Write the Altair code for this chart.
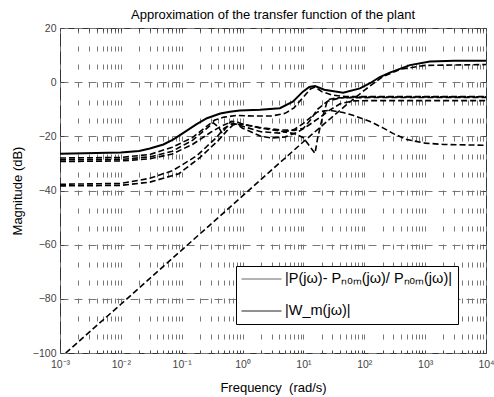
import altair as alt
import pandas as pd

# ---------------- data ----------------
# Solid curve |W_m(jw)|
wm_f = [0.001, 0.01, 0.02, 0.03, 0.05, 0.072, 0.105, 0.176, 0.26, 0.43, 0.62, 0.9,
        1.93, 4.1, 6.7, 9.8, 12.5, 15.5, 22, 45, 85, 124, 180, 263, 562, 1200, 3000, 10000]
wm_db = [-26.4, -26.0, -25.4, -24.5, -23.0, -21.2, -18.8, -15.5, -13.3, -11.6, -10.9, -10.5,
         -10.2, -9.6, -7.2, -3.5, -1.8, -1.4, -2.8, -3.9, -2.3, -0.4, 1.9, 3.5, 6.3, 7.6, 7.9, 7.9]

# Dashed curves |P - Pnom| / |Pnom| (several plant samples)
s_f = [0.00124, 0.01, 0.1, 1, 10, 50, 100, 200, 400, 1000, 10000]
s_db = [-100, -82, -62, -42, -22, -8.5, -3.0, 2.0, 4.8, 6.2, 6.5]

a_f = [0.001, 0.01, 0.03, 0.07, 0.15, 0.25, 0.35, 0.5, 0.8, 1.5, 3, 5, 7, 10, 13, 15.5, 20,
       30, 50, 100, 10000]
a_db = [-28.0, -27.8, -26.7, -24.0, -20.5, -16.5, -14.0, -12.9, -12.3, -12.5, -12.5, -11.5,
        -9.5, -5.5, -2.5, -1.8, -3.5, -4.8, -5.3, -5.3, -5.3]

b_f = [0.001, 0.01, 0.03, 0.07, 0.15, 0.25, 0.33, 0.4, 0.46, 0.55, 0.65, 0.8, 1, 2, 4, 7, 10,
       13, 15.5, 17, 20, 25, 35, 60, 10000]
b_db = [-28.7, -28.5, -27.6, -25.5, -21.5, -17.3, -15.0, -16.5, -18.8, -16.5, -14.5, -14.6,
        -15.5, -17.0, -18.0, -19.0, -20.5, -24.0, -26.3, -21.0, -14.0, -6.5, -5.8, -5.7, -5.6]

c_f = [0.001, 0.01, 0.03, 0.07, 0.15, 0.3, 0.45, 0.6, 0.8, 1, 2, 3, 5, 8, 12, 20, 27, 40,
       65, 150, 10000]
c_db = [-29.3, -29.1, -28.3, -26.5, -23.0, -18.5, -16.2, -15.0, -15.5, -17.0, -20.0, -20.6,
        -20.2, -18.5, -16.0, -12.5, -10.3, -8.0, -6.9, -6.8, -6.8]

d_f = [0.001, 0.01, 0.03, 0.072, 0.176, 0.37, 0.5, 0.7, 1, 2, 4, 7, 10, 17, 27, 45, 65, 124,
       200, 300, 500, 1000, 2000, 10000]
d_db = [-37.7, -37.4, -35.5, -32.6, -27.2, -20.5, -17.0, -15.3, -16.3, -18.3, -18.8, -17.5,
        -15.2, -11.0, -10.4, -11.2, -12.2, -14.5, -16.8, -19.0, -21.2, -22.5, -23.0, -23.3]

e_f = [0.001, 0.01, 0.03, 0.09, 0.2, 0.4, 0.55, 0.7, 1, 2, 4, 7, 10, 13, 17, 25, 40, 70, 10000]
e_db = [-38.3, -38.1, -36.9, -33.8, -27.8, -21.5, -18.0, -15.8, -15.5, -16.8, -17.6, -17.8,
        -17.0, -14.0, -10.0, -7.0, -5.8, -5.5, -5.4]

x_decades = [1e-3, 1e-2, 1e-1, 1e0, 1e1, 1e2, 1e3, 1e4]
x_labels = ["10⁻³", "10⁻²", "10⁻¹", "10⁰", "10¹", "10²", "10³", "10⁴"]
y_ticks = [-100, -80, -60, -40, -20, 0, 20]
legend_labels = ["|P(jω)- Pₙₒₘ(jω)/ Pₙₒₘ(jω)|", "|W_m(jω)|"]

# ---------------- build tables ----------------
rows = []
for name, fs, ds in [("s", s_f, s_db), ("a", a_f, a_db), ("b", b_f, b_db),
                     ("c", c_f, c_db), ("d", d_f, d_db), ("e", e_f, e_db)]:
    for i, (f, d) in enumerate(zip(fs, ds)):
        rows.append({"curve": name, "idx": i, "f": f, "db": d})
dashed_df = pd.DataFrame(rows)
solid_df = pd.DataFrame({"f": wm_f, "db": wm_db, "idx": list(range(len(wm_f)))})

grid_vals = []
for dec in x_decades[:-1]:
    for m in range(1, 10):
        grid_vals.append(dec * m)
grid_vals.append(x_decades[-1])

label_map = "{" + ",".join(f"'{i - 3}':'{lab}'" for i, lab in enumerate(x_labels)) + "}"
label_expr = (
    "abs(log(datum.value)/LN10 - round(log(datum.value)/LN10)) < 1e-6 ? "
    f"{label_map}[''+round(log(datum.value)/LN10)] : ''"
)

FONT = "Liberation Sans"

xscale = alt.Scale(type="log", domain=[1e-3, 1e4], nice=False)
yscale = alt.Scale(domain=[-100, 20], nice=False, zero=False)

xaxis = alt.Axis(values=grid_vals, labelExpr=label_expr, labelOverlap=False, labelFlush=False,
                 ticks=False, domain=False, grid=True, gridDash=[5, 13], gridColor="#777",
                 gridWidth=1, labelFont=FONT, labelFontSize=10.5, labelColor="#444",
                 labelPadding=6, title="Frequency\u00a0\u00a0(rad/s)", titleFont=FONT,
                 titleFontSize=13, titleFontWeight="normal", titleColor="black",
                 titleBaseline="middle", titleY=34)
yaxis = alt.Axis(values=y_ticks, ticks=False, domain=False, grid=True, gridDash=[8, 6],
                 gridColor="#777", gridWidth=1, labelFont=FONT, labelFontSize=10.5,
                 labelColor="#444", labelPadding=4, labelFlush=False,
                 title="Magnitude (dB)", titleFont=FONT, titleFontSize=13, titleFontWeight="normal",
                 titleColor="black", titleBaseline="middle", titleX=-43)


def inner_ticks(orient_x, orient_y):
    ax = alt.Axis(orient=orient_x, values=grid_vals, labels=False, ticks=True, tickSize=3,
                  offset=-3, tickColor="#444", domain=False, grid=False, title=None)
    ay = alt.Axis(orient=orient_y, values=y_ticks, labels=False, ticks=True, tickSize=4,
                  offset=-4, tickColor="#444", domain=False, grid=False, title=None)
    return alt.Chart(solid_df).mark_point(opacity=0).encode(
        x=alt.X("f:Q", scale=xscale, axis=ax),
        y=alt.Y("db:Q", scale=yscale, axis=ay),
    )


dashed = alt.Chart(dashed_df).mark_line(color="black", strokeDash=[6, 3], strokeWidth=1.6,
                                        clip=True).encode(
    x=alt.X("f:Q", scale=xscale, axis=xaxis),
    y=alt.Y("db:Q", scale=yscale, axis=yaxis),
    detail="curve:N",
    order="idx:Q",
)

solid = alt.Chart(solid_df).mark_line(color="black", strokeWidth=2, clip=True).encode(
    x=alt.X("f:Q", scale=xscale, axis=None),
    y=alt.Y("db:Q", scale=yscale, axis=None),
    order="idx:Q",
)

legend_df = pd.DataFrame({"lab": legend_labels, "f": [1.0, 1.0], "db": [None, None]})
legend_layer = alt.Chart(legend_df).mark_line(strokeWidth=1).encode(
    x=alt.X("f:Q", scale=xscale, axis=None),
    y=alt.Y("db:Q", scale=yscale, axis=None),
    color=alt.Color("lab:N", scale=alt.Scale(domain=legend_labels, range=["#666", "#222"]),
                    legend=alt.Legend(title=None, orient="none", legendX=176, legendY=238,
                                      strokeColor="black", fillColor="white", padding=5,
                                      symbolType="stroke", symbolSize=1600, symbolStrokeWidth=1,
                                      labelFont=FONT, labelFontSize=14.5, labelColor="black",
                                      labelOffset=3, rowPadding=16, clipHeight=16,
                                      labelLimit=400)),
)

chart = alt.layer(
    dashed, solid, inner_ticks("top", "right"), inner_ticks("bottom", "left"), legend_layer
).resolve_axis(x="independent", y="independent").properties(
    width=426, height=325,
    padding={"left": 60, "top": 28, "right": 8, "bottom": 44},
    autosize=alt.AutoSizeParams(type="none"),
    title=alt.TitleParams("Approximation of the transfer function of the plant", font=FONT,
                          fontSize=13, fontWeight="normal", color="black", offset=1),
).configure_view(stroke="#333", strokeWidth=1)

chart.save("out.html", embed_options={"renderer": "svg", "actions": False})
